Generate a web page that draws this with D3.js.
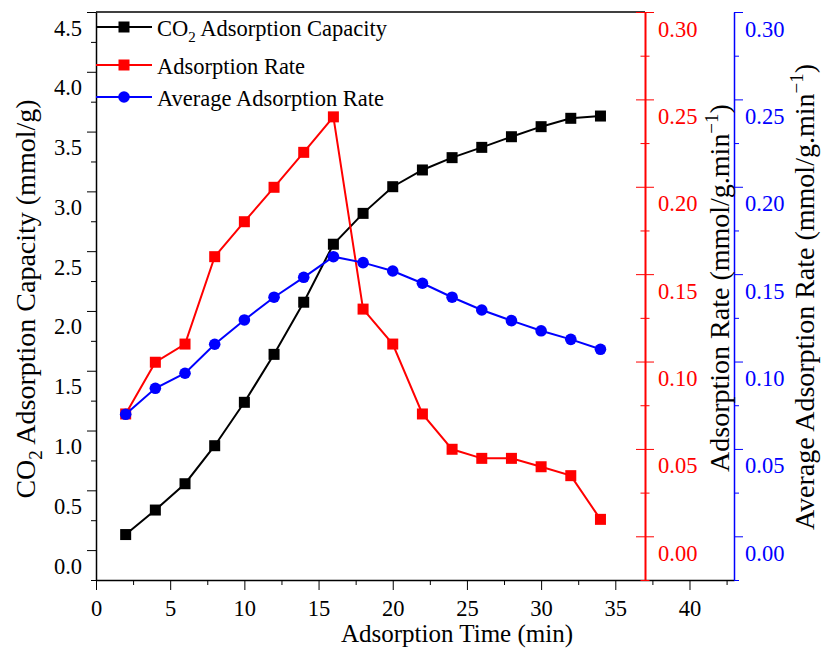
<!DOCTYPE html>
<html>
<head>
<meta charset="utf-8">
<script src="https://cdn.jsdelivr.net/npm/d3@7"></script>
<style>
  body { margin: 0; background: #fff; }
  svg, svg text, svg tspan { font-family: "Liberation Serif", "DejaVu Serif", serif !important; }
</style>
</head>
<body>
<svg width="821" height="648"></svg>
<script>
// data
const times = [2, 4, 6, 8, 10, 12, 14, 16, 18, 20, 22, 24, 26, 28, 30, 32, 34];
const capacity = [0.13, 0.335, 0.555, 0.873, 1.236, 1.637, 2.073, 2.558, 2.816, 3.039,
  3.179, 3.282, 3.368, 3.457, 3.541, 3.611, 3.630];
const rate = [0.070, 0.0996, 0.110, 0.160, 0.180, 0.1997, 0.2197, 0.240, 0.130, 0.110,
  0.070, 0.0498, 0.0446, 0.0446, 0.0398, 0.0347, 0.0097];
const avgRate = [0.0698, 0.0847, 0.0933, 0.1099, 0.1238, 0.1368, 0.1482, 0.160, 0.1566,
  0.1518, 0.1448, 0.1368, 0.1295, 0.1234, 0.1176, 0.1127, 0.107];

const xTicks = [0, 5, 10, 15, 20, 25, 30, 35, 40];
const xMinor = [2.5, 7.5, 12.5, 17.5, 22.5, 27.5, 32.5, 37.5, 42.5];
const capTicks = [0, 0.5, 1, 1.5, 2, 2.5, 3, 3.5, 4, 4.5];
const capMinor = [-0.25, 0.25, 0.75, 1.25, 1.75, 2.25, 2.75, 3.25, 3.75, 4.25];
const rateTicks = [0, 0.05, 0.10, 0.15, 0.20, 0.25, 0.30];
const rateMinor = [-0.025, 0.025, 0.075, 0.125, 0.175, 0.225, 0.275];

const serif = '"Liberation Serif", "DejaVu Serif", serif';
const svg = d3.select("svg");
const plotLeft = 96, plotBottom = 580, plotTop = 12;
const redX = 645, blueX = 734;

const x = d3.scaleLinear().domain([0, 43]).range([plotLeft, blueX]);
const yCap = d3.scaleLinear().domain([-0.25, 4.5]).range([plotBottom, plotTop]);
const yRate = d3.scaleLinear().domain([-0.025, 0.30]).range([plotBottom, plotTop]);

const tickFont = "22.5px";

function styleText(g, color, yOff) {
  g.attr("font-family", null).style("font-family", serif);
  g.selectAll("text")
    .attr("dy", null).attr("y", yOff)
    .style("font-family", serif).style("font-size", tickFont).attr("fill", color);
}

// top frame
svg.append("line")
  .attr("x1", plotLeft).attr("x2", redX).attr("y1", plotTop).attr("y2", plotTop)
  .attr("stroke", "#000").attr("stroke-width", 1.5);

// x axis
const gx = svg.append("g").attr("transform", `translate(0,${plotBottom})`);
gx.call(d3.axisBottom(x).tickValues(xTicks).tickSize(10).tickSizeOuter(0).tickFormat(d3.format("d")));
gx.append("g").call(d3.axisBottom(x).tickValues(xMinor).tickSize(5).tickFormat(""))
  .select(".domain").remove();
styleText(gx, "#000", 36);

// left axis
const gl = svg.append("g").attr("transform", `translate(${plotLeft},0)`);
gl.call(d3.axisLeft(yCap).tickValues(capTicks).tickSize(9).tickPadding(5).tickSizeOuter(0)
  .tickFormat(d3.format(".1f")));
gl.append("g").call(d3.axisLeft(yCap).tickValues(capMinor).tickSize(5).tickFormat(""))
  .select(".domain").remove();
styleText(gl, "#000", 23);

// red axis (ticks cross the line)
const gr = svg.append("g").attr("transform", `translate(${redX},0)`);
gr.call(d3.axisRight(yRate).tickValues(rateTicks).tickSize(9).tickPadding(4).tickSizeOuter(0)
  .tickFormat(d3.format(".2f")));
gr.selectAll(".tick line").attr("x1", -9);
gr.append("g").call(d3.axisRight(yRate).tickValues(rateMinor).tickSize(4.5).tickFormat(""))
  .call(g => g.select(".domain").remove())
  .selectAll(".tick line").attr("x1", -4.5);
gr.selectAll("path, line").attr("stroke", "#f00");
gr.select(".domain").attr("stroke-width", 2);
styleText(gr, "#f00", 24);

// blue axis
const gb = svg.append("g").attr("transform", `translate(${blueX},0)`);
gb.call(d3.axisRight(yRate).tickValues(rateTicks).tickSize(9).tickPadding(2).tickSizeOuter(0)
  .tickFormat(d3.format(".2f")));
gb.append("g").call(d3.axisRight(yRate).tickValues(rateMinor).tickSize(5).tickFormat(""))
  .select(".domain").remove();
gb.selectAll("path, line").attr("stroke", "#00f");
gb.select(".domain").attr("stroke-width", 1.5);
styleText(gb, "#00f", 24);

[gx, gl].forEach(g => g.selectAll("path, line").attr("stroke", "#000"));
gx.select(".domain").attr("stroke-width", 1.5);
gl.select(".domain").attr("stroke-width", 1.5);

// series
const series = [
  { values: capacity, y: yCap, color: "#000", shape: "square" },
  { values: rate, y: yRate, color: "#f00", shape: "square" },
  { values: avgRate, y: yRate, color: "#00f", shape: "circle" }
];

function drawMarker(g, shape, color, cx, cy) {
  if (shape === "square") {
    g.append("rect").attr("x", cx - 5.5).attr("y", cy - 5.5)
      .attr("width", 11).attr("height", 11).attr("fill", color);
  } else {
    g.append("circle").attr("cx", cx).attr("cy", cy).attr("r", 5.8).attr("fill", color);
  }
}

series.forEach(s => {
  const line = d3.line().x((d, i) => x(times[i])).y(d => s.y(d));
  svg.append("path").datum(s.values)
    .attr("d", line).attr("fill", "none")
    .attr("stroke", s.color).attr("stroke-width", 2);
  const g = svg.append("g");
  s.values.forEach((v, i) => drawMarker(g, s.shape, s.color, x(times[i]), s.y(v)));
});

// legend
const legend = [
  { label: ["CO", "2", " Adsorption Capacity"], color: "#000", shape: "square", y: 27 },
  { label: ["Adsorption Rate"], color: "#f00", shape: "square", y: 65 },
  { label: ["Average Adsorption Rate"], color: "#00f", shape: "circle", y: 97 }
];
legend.forEach(l => {
  const g = svg.append("g");
  g.append("line").attr("x1", plotLeft).attr("x2", 152).attr("y1", l.y).attr("y2", l.y)
    .attr("stroke", l.color).attr("stroke-width", 2);
  drawMarker(g, l.shape, l.color, 124, l.y);
  const t = g.append("text").attr("x", 157).attr("y", l.y + 9).attr("font-size", tickFont);
  if (l.label.length === 3) {
    t.append("tspan").text(l.label[0]);
    t.append("tspan").attr("dy", 6).attr("font-size", "15px").text(l.label[1]);
    t.append("tspan").attr("dy", -6).text(l.label[2]);
  } else {
    t.text(l.label[0]);
  }
});

// axis titles
svg.append("text").attr("x", 457).attr("y", 642).attr("text-anchor", "middle")
  .attr("font-size", "25px").text("Adsorption Time (min)");

const yt = svg.append("text").attr("transform", "translate(35,299) rotate(-90)")
  .attr("text-anchor", "middle").attr("font-size", "28px");
yt.append("tspan").text("CO");
yt.append("tspan").attr("dy", 7).attr("font-size", "19px").text("2");
yt.append("tspan").attr("dy", -7).text(" Adsorption Capacity (mmol/g)");

function rateTitle(label, tx, ty) {
  const t = svg.append("text").attr("transform", `translate(${tx},${ty}) rotate(-90)`)
    .attr("text-anchor", "middle").attr("font-size", "28px");
  t.append("tspan").text(label + " (mmol/g.min");
  t.append("tspan").attr("dy", -11).attr("font-size", "19px").text("−1");
  t.append("tspan").attr("dy", 11).text(")");
}
rateTitle("Adsorption Rate", 729, 288);
rateTitle("Average Adsorption Rate", 814, 297);
</script>
</body>
</html>
